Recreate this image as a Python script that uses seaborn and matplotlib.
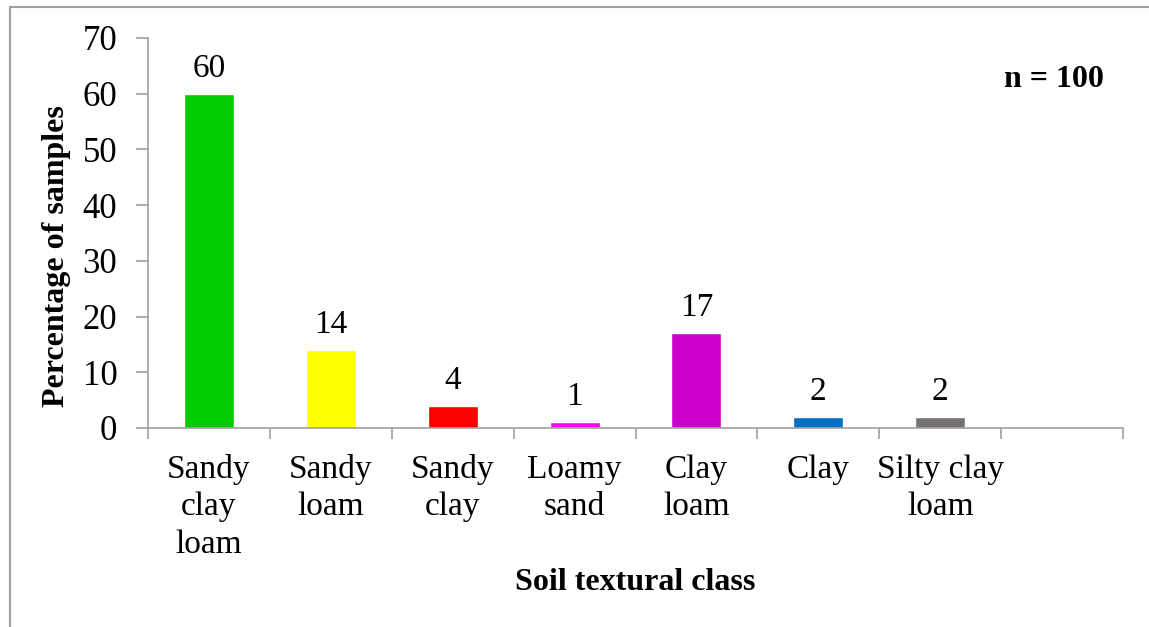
import numpy as np
import pandas as pd
import matplotlib
matplotlib.use("Agg")
import matplotlib.pyplot as plt
import seaborn as sns
from matplotlib.lines import Line2D

# Données
classes = ["Sandy\nclay\nloam", "Sandy\nloam", "Sandy\nclay", "Loamy\nsand",
           "Clay\nloam", "Clay", "Silty clay\nloam"]
pourcentages = [60, 14, 4, 1, 17, 2, 2]
couleurs = ["#00CC00", "#FFFF00", "#FF0000", "#FF00FF", "#CC00CC", "#0070C0", "#767171"]
n_slots = 8  # une catégorie vide à droite

sns.set_theme(style="white")
plt.rcParams["font.family"] = ["Liberation Serif", "DejaVu Serif"]
plt.rcParams["text.color"] = "black"
plt.rcParams["axes.labelcolor"] = "black"
plt.rcParams["xtick.color"] = "black"
plt.rcParams["ytick.color"] = "black"

df = pd.DataFrame({"classe": classes, "pct": pourcentages})

fig = plt.figure(figsize=(11.49, 6.27), dpi=100)
ax = fig.add_axes([148 / 1149, 1 - 428 / 627, (1123 - 148) / 1149, (428 - 38) / 627])

sns.barplot(data=df, x="classe", y="pct", hue="classe", palette=couleurs,
            legend=False, width=0.41, saturation=1, ax=ax)

for i, v in enumerate(pourcentages):
    ax.text(i, v + 1.8, f"{v}", ha="center", va="bottom", fontsize=24)

ax.set_xlim(-0.5, n_slots - 0.5)
ax.set_ylim(0, 70)
ax.set_yticks(range(0, 71, 10))
ax.set_xticks(range(len(classes)))
ax.set_xticklabels(classes, fontsize=24, linespacing=1.28)
ax.set_xticks(np.arange(-0.5, n_slots, 1), minor=True)
ax.tick_params(axis="x", which="major", bottom=True, length=0, pad=19)
ax.tick_params(axis="x", which="minor", bottom=True, length=8, width=1.2,
               color="#a0a0a0", direction="out")
ax.tick_params(axis="y", left=True, length=9, width=1.2, color="#a0a0a0",
               labelcolor="black", direction="out", labelsize=25, pad=13)

for s in ["top", "right"]:
    ax.spines[s].set_visible(False)
for s in ["left", "bottom"]:
    ax.spines[s].set_color("#a0a0a0")
    ax.spines[s].set_linewidth(1.2)

ax.set_xlabel("Soil textural class", fontsize=23, fontweight="bold", labelpad=6)
ax.set_ylabel("Percentage of samples", fontsize=23, fontweight="bold")
ax.yaxis.set_label_coords(-0.079, 0.44)

ax.text(0.98, 0.893, "n = 100", transform=ax.transAxes, ha="right", va="center",
        fontsize=23, fontweight="bold")

# Cadre partiel (haut et gauche)
fig.add_artist(Line2D([10 / 1149, 10 / 1149], [0, 1 - 7 / 627], color="#a0a0a0", lw=1.5,
                      transform=fig.transFigure))
fig.add_artist(Line2D([10 / 1149, 1], [1 - 7 / 627, 1 - 7 / 627], color="#a0a0a0", lw=1.5,
                      transform=fig.transFigure))

fig.savefig("out.png", dpi=100)
